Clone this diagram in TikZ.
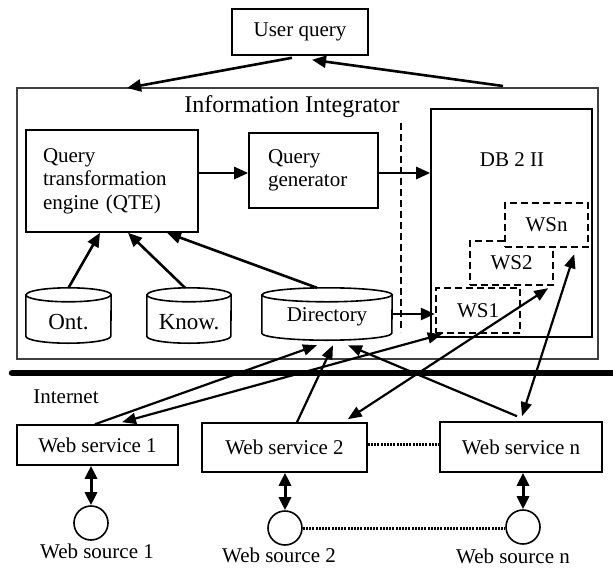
\documentclass[tikz,border=0pt]{standalone}
\usepackage{fontspec}
\setmainfont{Liberation Serif}
\usetikzlibrary{arrows.meta}
\newcommand\cylshape[2]{%
  \draw[cyl] ([yshift=-7pt]#1.north west) -- ([yshift=7pt]#1.south west)
     arc[start angle=180,end angle=360,x radius=#2,y radius=7pt]
     -- ([yshift=-7pt]#1.north east)
     arc[start angle=0,end angle=180,x radius=#2,y radius=7pt] -- cycle;
  \draw[line width=1.6pt] ([yshift=-7pt]#1.north west) arc[start angle=180,end angle=360,x radius=#2,y radius=7pt];
}
\begin{document}
\begin{tikzpicture}[x=1pt,y=-1pt,
  box/.style={draw, line width=1.6pt, inner sep=0pt},
  arr/.style={line width=2.6pt, -{Triangle[length=14pt,width=12pt]}},
  thinarr/.style={line width=2.2pt, -{Triangle[length=14pt,width=11pt]}},
  thindarr/.style={line width=2.2pt, {Triangle[length=14pt,width=11pt]}-{Triangle[length=14pt,width=11pt]}},
  vdarr/.style={line width=3pt, {Triangle[length=13pt,width=12pt]}-{Triangle[length=13pt,width=12pt]}},
  wsbox/.style={draw, line width=2.4pt, dash pattern=on 7pt off 4pt, fill=white, minimum width=83pt, minimum height=44pt, inner sep=0pt},
  cyl/.style={draw, line width=1.6pt, fill=white},
  dotline/.style={line width=3pt, dash pattern=on 2pt off 1.2pt},
  dashline/.style={line width=2.4pt, dash pattern=on 7pt off 4pt},
  font=\fontsize{21}{23.5}\selectfont]
\useasboundingbox (0,0) rectangle (613,568);

% top
\node[box, minimum width=136pt, minimum height=46pt] (uq) at (300,32) {User query};
\node[draw=black!75, line width=1.2pt, minimum width=581pt, minimum height=271pt, inner sep=0pt] (outer) at (307.5,223.5) {};
\node[font=\fontsize{24}{26}\selectfont] (ii) at (292,107) {Information Integrator};
\coordinate (a1e) at (127,88);
\coordinate (a2s) at (503,86);
\draw[arr] ([xshift=-8pt,yshift=-2pt]uq.south) -- (a1e);
\draw[arr] (a2s) -- ([xshift=12pt,yshift=-4pt]uq.south);

% integrator contents
\node[box, minimum width=172pt, minimum height=102pt, text width=138pt, inner xsep=17pt, align=left] (qte) at (112,181) {Query\\transformation\\engine (QTE)};
\node[box, minimum width=129pt, minimum height=75pt, text width=91pt, inner xsep=19pt, align=left] (qgen) at (313.5,170.5) {Query\\generator};
\node[box, minimum width=161pt, minimum height=228pt] (db) at (511.5,223) {};
\node (dbl) at (512,160) {DB 2 II};
\node[wsbox, minimum width=84pt, minimum height=45pt] (wsa) at (478,310.5) {WS1};
\node[wsbox] (wsb) at (511.5,263) {WS2};
\node[wsbox] (wsc) at (546.5,225) {WSn};

\coordinate (dtop) at (401,123);
\coordinate (dbot) at (401,332);
\draw[dashline] (dtop) -- (dbot);

\draw[arr] ([yshift=8pt]qte.east) -- ([yshift=8pt]qte.east -| qgen.west);
\draw[arr] ([yshift=-2.5pt]qgen.east) -- ([yshift=-2.5pt]qgen.east -| db.west);

% cylinders
\path node[minimum width=85pt, minimum height=55pt, inner sep=0pt] (ont) at (68.5,315.5) {};
\cylshape{ont}{42.5pt}
\node[font=\fontsize{23}{25}\selectfont] (ontt) at ([yshift=-6.5pt]ont.center) {Ont.};
\path node[minimum width=84pt, minimum height=55pt, inner sep=0pt] (know) at (189,315.5) {};
\cylshape{know}{42pt}
\node[font=\fontsize{23}{25}\selectfont] (knowt) at ([yshift=-6.5pt]know.center) {Know.};
\path node[minimum width=130pt, minimum height=52pt, inner sep=0pt] (dir) at (327,314) {};
\cylshape{dir}{65pt}
\node (dirt) at ([yshift=-3pt]dir.center) {Directory};

\draw[arr] (ont.north) -- ([xshift=-12pt]qte.south);
\draw[arr] ([xshift=-4pt]know.north) -- ([xshift=16pt]qte.south);
\draw[arr] ([xshift=-10pt]dir.north) -- ([xshift=55pt]qte.south);
\draw[arr] (dir.east) -- (dir.east -| wsa.west);

% internet
\coordinate (nl) at (12,373);
\coordinate (nr) at (613,373);
\draw[line width=6.5pt, line cap=round] (nl) -- (nr);
\node (inet) at (66,397) {Internet};

% web services
\node[box, minimum width=161pt, minimum height=40pt] (w1) at (97.5,445) {Web service 1};
\node[box, minimum width=165pt, minimum height=49pt] (w2) at (284.5,447.5) {Web service 2};
\node[box, minimum width=162pt, minimum height=50pt] (wn) at (521,447) {Web service n};
\draw[dotline] ([yshift=3pt]w2.east) -- ([yshift=3pt]w2.east -| wn.west);

% sources
\node[circle, draw, line width=1.6pt, minimum size=34pt, inner sep=0pt] (s1) at (91,523) {};
\node[circle, draw, line width=1.6pt, minimum size=34pt, inner sep=0pt] (s2) at (285,528) {};
\node[circle, draw, line width=1.6pt, minimum size=34pt, inner sep=0pt] (sn) at (523,527) {};
\node (s1l) at (97,551) {Web source 1};
\node (s2l) at (279,555) {Web source 2};
\node (snl) at (513,556) {Web source n};
\draw[vdarr] (s1.north |- w1.south) -- (s1.north);
\draw[vdarr] (s2.north |- w2.south) -- (s2.north);
\draw[vdarr] (sn.north |- wn.south) -- (sn.north);
\draw[dotline] (s2.east) -- (s2.east -| sn.west);

% cross connectors
\draw[thinarr] ([xshift=-2.5pt]w1.north) -- ([xshift=-10pt,yshift=-5pt]dir.south);
\draw[thindarr] ([xshift=24.5pt,yshift=2pt]w1.north) -- ([xshift=7pt]wsa.south west);
\draw[thinarr] ([xshift=12.5pt]w2.north) -- ([xshift=6pt,yshift=-5pt]dir.south);
\draw[thindarr] ([xshift=-20pt,yshift=3pt]w2.north east) -- ([xshift=-6pt,yshift=-2pt]wsb.south east);
\draw[thinarr] ([xshift=-4pt,yshift=5pt]wn.north) -- ([xshift=21pt,yshift=-5pt]dir.south);
\draw[thindarr] ([xshift=1pt,yshift=5pt]wn.north) -- ([xshift=-15pt,yshift=-6pt]wsc.south east);
\end{tikzpicture}
\end{document}
